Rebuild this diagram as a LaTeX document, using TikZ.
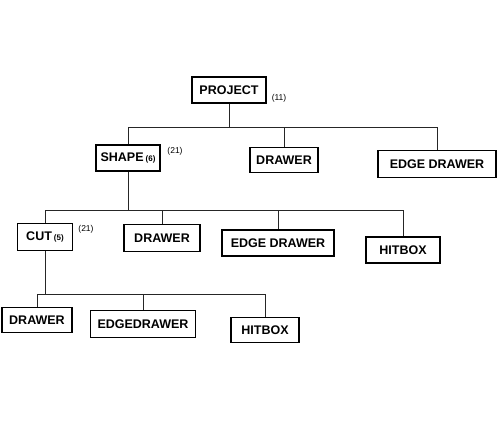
\documentclass[tikz,border=0pt]{standalone}
\usepackage{fontspec}
\setmainfont{Liberation Sans}
\begin{document}
\begin{tikzpicture}[x=1pt,y=-1pt,
  box/.style={draw=black, line width=1.7pt, inner sep=0pt, minimum height=26pt,
    font=\bfseries\fontsize{12.5}{15}\selectfont},
  note/.style={inner sep=0pt, font=\fontsize{8.5}{10}\selectfont},
  link/.style={draw=black!85, line width=0.9pt}]
\useasboundingbox[fill=white] (0,0) rectangle (500,420);
% level 0
\node[box, minimum width=74pt] (proj) at (229,90) {PROJECT};
\node[note] (n1) at (279,98) {(11)};
% level 1
\node[box, minimum width=64pt] (shape) at (128,158) {SHAPE\,{\fontsize{8}{9}\selectfont(6)}};
\node[note] (n2) at (175,151) {(21)};
\node[box, minimum width=68pt, minimum height=25pt] (dr1) at (284,160) {DRAWER};
\node[box, minimum width=118pt, minimum height=27pt] (ed1) at (437,164) {EDGE DRAWER};
% level 2
\node[box, minimum width=55pt, minimum height=27pt] (cut) at (45,237) {CUT\,{\fontsize{8}{9}\selectfont(5)}};
\node[note] (n3) at (86,229) {(21)};
\node[box, minimum width=76pt, minimum height=27pt] (dr2) at (162,238) {DRAWER};
\node[box, minimum width=112pt] (ed2) at (278,243) {EDGE DRAWER};
\node[box, minimum width=74pt] (hb2) at (403,250) {HITBOX};
% level 3
\node[box, minimum width=70pt, minimum height=25pt] (dr3) at (37,320) {DRAWER};
\node[box, minimum width=105pt, minimum height=27pt] (ed3) at (143,324) {EDGEDRAWER};
\node[box, minimum width=68pt, minimum height=25pt] (hb3) at (265,330) {HITBOX};
% buses
\coordinate (b1) at (0,127);
\coordinate (b2) at (0,210);
\coordinate (b3) at (0,294);
% connectors level 0 -> 1
\draw[link] (proj.south) -- (proj.south |- b1);
\draw[link] (shape.north |- b1) -- (ed1.north |- b1);
\draw[link] (shape.north |- b1) -- (shape.north);
\draw[link] (dr1.north |- b1) -- (dr1.north);
\draw[link] (ed1.north |- b1) -- (ed1.north);
% level 1 -> 2
\draw[link] (shape.south) -- (shape.south |- b2);
\draw[link] (cut.north |- b2) -- (hb2.north |- b2);
\draw[link] (cut.north |- b2) -- (cut.north);
\draw[link] (dr2.north |- b2) -- (dr2.north);
\draw[link] (ed2.north |- b2) -- (ed2.north);
\draw[link] (hb2.north |- b2) -- (hb2.north);
% level 2 -> 3
\draw[link] (cut.south) -- (cut.south |- b3);
\draw[link] (dr3.north |- b3) -- (hb3.north |- b3);
\draw[link] (dr3.north |- b3) -- (dr3.north);
\draw[link] (ed3.north |- b3) -- (ed3.north);
\draw[link] (hb3.north |- b3) -- (hb3.north);
\end{tikzpicture}
\end{document}
